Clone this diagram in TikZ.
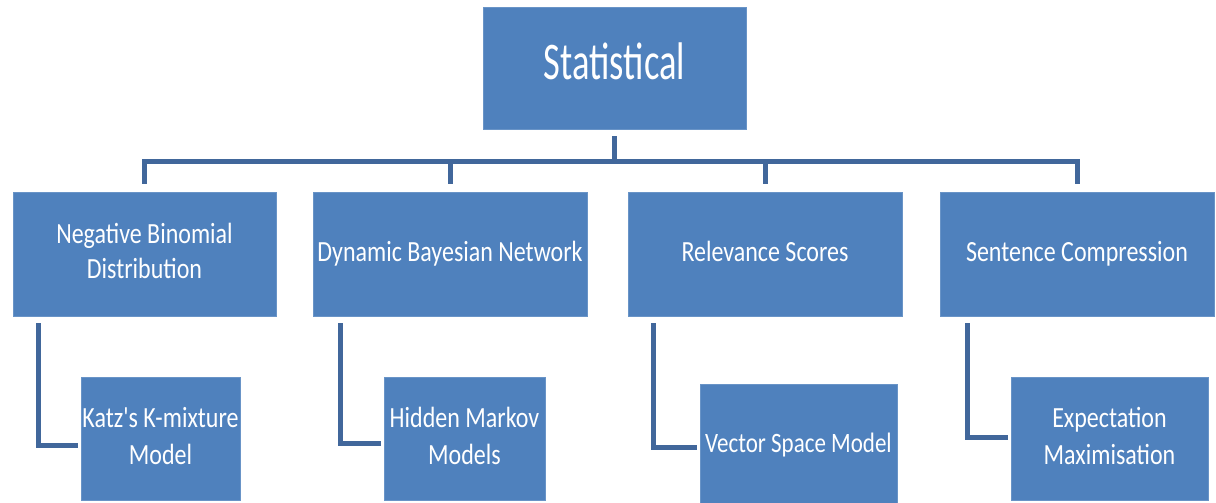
\documentclass[tikz,border=0pt]{standalone}
\usepackage{fontspec}
\setmainfont{Carlito}
\usepackage{graphicx}
\definecolor{boxblue}{RGB}{79,129,189}
\definecolor{lineblue}{RGB}{65,103,155}
\newcommand\tx[2][1.22]{\scalebox{1}[#1]{\begin{tabular}{@{}c@{}}#2\end{tabular}}}
\tikzset{
  box/.style={rectangle, fill=boxblue, draw=boxblue!85!white, line width=0.8pt, inner sep=0pt, text=white,
    font=\fontsize{24}{29}\selectfont, anchor=center},
  leaf/.style={box, font=\fontsize{24}{30.5}\selectfont},
  conn/.style={draw=lineblue, line width=5pt, line cap=butt},
}
\begin{document}
\begin{tikzpicture}[x=1pt,y=-1pt]
\useasboundingbox[fill=white] (0,0) rectangle (1216,503);
% top
\node[box, minimum width=263pt, minimum height=122pt, font=\fontsize{36.5}{40}\selectfont] (top) at (614.5,68) {\raisebox{2pt}{\tx[1.45]{Statistical}}};
% level 2
\node[box, minimum width=263pt, minimum height=124pt] (b1) at (144.5,254) {\tx{Negative Binomial\\Distribution}};
\node[box, minimum width=274pt, minimum height=124pt] (b2) at (450,254) {\tx{Dynamic Bayesian Network}};
\node[box, minimum width=274pt, minimum height=124pt] (b3) at (765,254) {\tx{Relevance Scores}};
\node[box, minimum width=274pt, minimum height=124pt] (b4) at (1077,254) {\tx{Sentence Compression}};
% level 3
\node[leaf, minimum width=159pt, minimum height=123pt] (c1) at (160.5,438.5) {\tx{Katz\textquotesingle s K-mixture\\Model}};
\node[leaf, minimum width=161pt, minimum height=123pt] (c2) at (464.5,438.5) {\tx{Hidden Markov\\Models}};
\node[leaf, minimum width=197pt, minimum height=124pt, font=\fontsize{23}{25}\selectfont] (c3) at (798.5,446) {\tx{Vector Space Model}};
\node[leaf, minimum width=197pt, minimum height=123pt] (c4) at (1109.5,438.5) {\tx{Expectation\\Maximisation}};
% tree connectors
\coordinate (bar) at (614.5,161);
\draw[conn, shorten <=7pt] (top.south) -- (bar);
\foreach \b in {b1,b2,b3,b4}{
  \draw[conn, shorten >=8pt] (bar) -| (\b.north);
}
% elbow connectors
\coordinate (k1) at (38,445);
\coordinate (k2) at (340,443);
\coordinate (k3) at (653,447);
\coordinate (k4) at (967,437);
\draw[conn, shorten <=7pt, shorten >=3pt] (b1.south -| k1) -- (k1) -- (k1 -| c1.west);
\draw[conn, shorten <=7pt, shorten >=3pt] (b2.south -| k2) -- (k2) -- (k2 -| c2.west);
\draw[conn, shorten <=7pt, shorten >=3pt] (b3.south -| k3) -- (k3) -- (k3 -| c3.west);
\draw[conn, shorten <=7pt, shorten >=3pt] (b4.south -| k4) -- (k4) -- (k4 -| c4.west);
\end{tikzpicture}
\end{document}
